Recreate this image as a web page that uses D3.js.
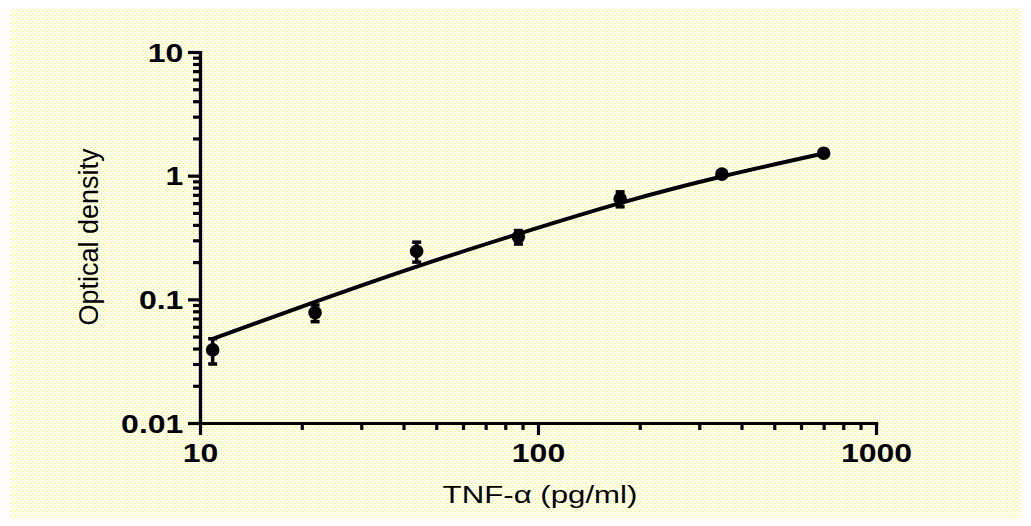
<!DOCTYPE html>
<html>
<head>
<meta charset="utf-8">
<script src="https://cdn.jsdelivr.net/npm/d3@7"></script>
<style>
  html, body { margin: 0; padding: 0; background: #ffffff; }
  svg { display: block; }
  text { font-family: "Liberation Sans", Arial, sans-serif; fill: #000; }
</style>
</head>
<body>
<svg id="chart" width="1031" height="526"></svg>
<script>
// Standard concentrations (pg/ml), mean optical density and SD
const concentration = [10.9, 21.9, 43.75, 87.5, 175, 350, 700];
const meanOD = [0.039, 0.078, 0.245, 0.32, 0.65, 1.03, 1.52];
const sdOD = [0.009, 0.012, 0.045, 0.04, 0.09, 0.05, 0.05];

// Fitted standard curve, sampled along the concentration range
const fitX = [10.9, 22, 44, 88, 175, 350, 700];
const fitY = [0.0479, 0.0959, 0.185, 0.340, 0.600, 0.984, 1.51];

// Axis tick values and labels
const xMajor = [10, 100, 1000];
const xMajorLabels = ["10", "100", "1000"];
const yMajor = [0.01, 0.1, 1, 10];
const yMajorLabels = ["0.01", "0.1", "1", "10"];

const xTitle = "TNF-\u03b1  (pg/ml)";
const yTitle = "Optical density";

const svg = d3.select("#chart");

// Dotted paper background
const defs = svg.append("defs");
const pat = defs.append("pattern")
  .attr("id", "dots").attr("patternUnits", "userSpaceOnUse")
  .attr("width", 4).attr("height", 4);
pat.append("rect").attr("width", 4).attr("height", 4).attr("fill", "#ffffff");
pat.append("rect").attr("x", 1).attr("y", 1).attr("width", 1).attr("height", 1).attr("fill", "#ffff00");
pat.append("rect").attr("x", 3).attr("y", 3).attr("width", 1).attr("height", 1).attr("fill", "#ffff00");
svg.append("rect").attr("x", 10).attr("y", 8).attr("width", 1011).attr("height", 510).attr("fill", "url(#dots)");

const x = d3.scaleLog().domain([10, 1000]).range([200, 876]);
const y = d3.scaleLog().domain([0.01, 10]).range([423, 52]);

function minorTicks(domain) {
  const out = [];
  for (let p = Math.log10(domain[0]); p < Math.log10(domain[1]); p++) {
    for (let m = 2; m <= 9; m++) out.push(m * Math.pow(10, p));
  }
  return out;
}

const axisStroke = 3.2;
const labelStretch = 1.28;

// Y axis
const gy = svg.append("g").attr("transform", `translate(${x(10)},0)`);
gy.call(d3.axisLeft(y).tickValues(minorTicks(y.domain())).tickSize(7).tickFormat("").tickSizeOuter(0));
gy.append("g").call(d3.axisLeft(y).tickValues(yMajor).tickSize(12).tickSizeOuter(0)
  .tickFormat((d, i) => yMajorLabels[i]));

// X axis
const gx = svg.append("g").attr("transform", `translate(0,${y(0.01)})`);
gx.call(d3.axisBottom(x).tickValues(minorTicks(x.domain())).tickSize(7).tickFormat("").tickSizeOuter(0));
gx.append("g").call(d3.axisBottom(x).tickValues(xMajor).tickSize(12).tickSizeOuter(0)
  .tickFormat((d, i) => xMajorLabels[i]));

svg.selectAll(".domain").attr("stroke", "#000").attr("stroke-width", axisStroke).attr("stroke-linecap", "square");
svg.selectAll(".tick line").attr("stroke", "#000").attr("stroke-width", axisStroke);

gy.selectAll(".tick text")
  .attr("font-size", 25).attr("font-weight", "bold")
  .attr("x", -13).attr("dy", "0.36em")
  .attr("transform", `scale(${labelStretch},1)`);
gx.selectAll(".tick text")
  .attr("font-size", 25).attr("font-weight", "bold")
  .attr("dy", "0.95em")
  .attr("transform", `scale(${labelStretch},1)`);

// Fitted curve (smooth through the sampled fit values)
const line = d3.line().x((d, i) => x(fitX[i])).y((d, i) => y(fitY[i])).curve(d3.curveNatural);
svg.append("path")
  .datum(fitX)
  .attr("d", line)
  .attr("fill", "none")
  .attr("stroke", "#000")
  .attr("stroke-width", 4)
  .attr("stroke-linecap", "round");

// Error bars
const pts = concentration.map((c, i) => ({ c, m: meanOD[i], s: sdOD[i] }));
const eb = svg.append("g");
pts.forEach(p => {
  const cx = x(p.c), yTop = y(p.m + p.s), yBot = y(p.m - p.s);
  eb.append("line").attr("x1", cx).attr("x2", cx).attr("y1", yTop).attr("y2", yBot)
    .attr("stroke", "#000").attr("stroke-width", 3.5);
  [yTop, yBot].forEach(yy => eb.append("line")
    .attr("x1", cx - 4.5).attr("x2", cx + 4.5).attr("y1", yy).attr("y2", yy)
    .attr("stroke", "#000").attr("stroke-width", 3.5));
});

// Mean markers
svg.append("g").selectAll("circle").data(pts).join("circle")
  .attr("cx", d => x(d.c)).attr("cy", d => y(d.m)).attr("r", 6.8).attr("fill", "#000");

// Axis titles
svg.append("text")
  .attr("x", 540).attr("y", 503)
  .attr("text-anchor", "middle")
  .attr("font-size", 24)
  .attr("transform", "translate(540,0) scale(1.3,1) translate(-540,0)")
  .text(xTitle);

svg.append("text")
  .attr("transform", "translate(98,237) rotate(-90)")
  .attr("text-anchor", "middle")
  .attr("font-size", 27)
  .text(yTitle);
</script>
</body>
</html>
